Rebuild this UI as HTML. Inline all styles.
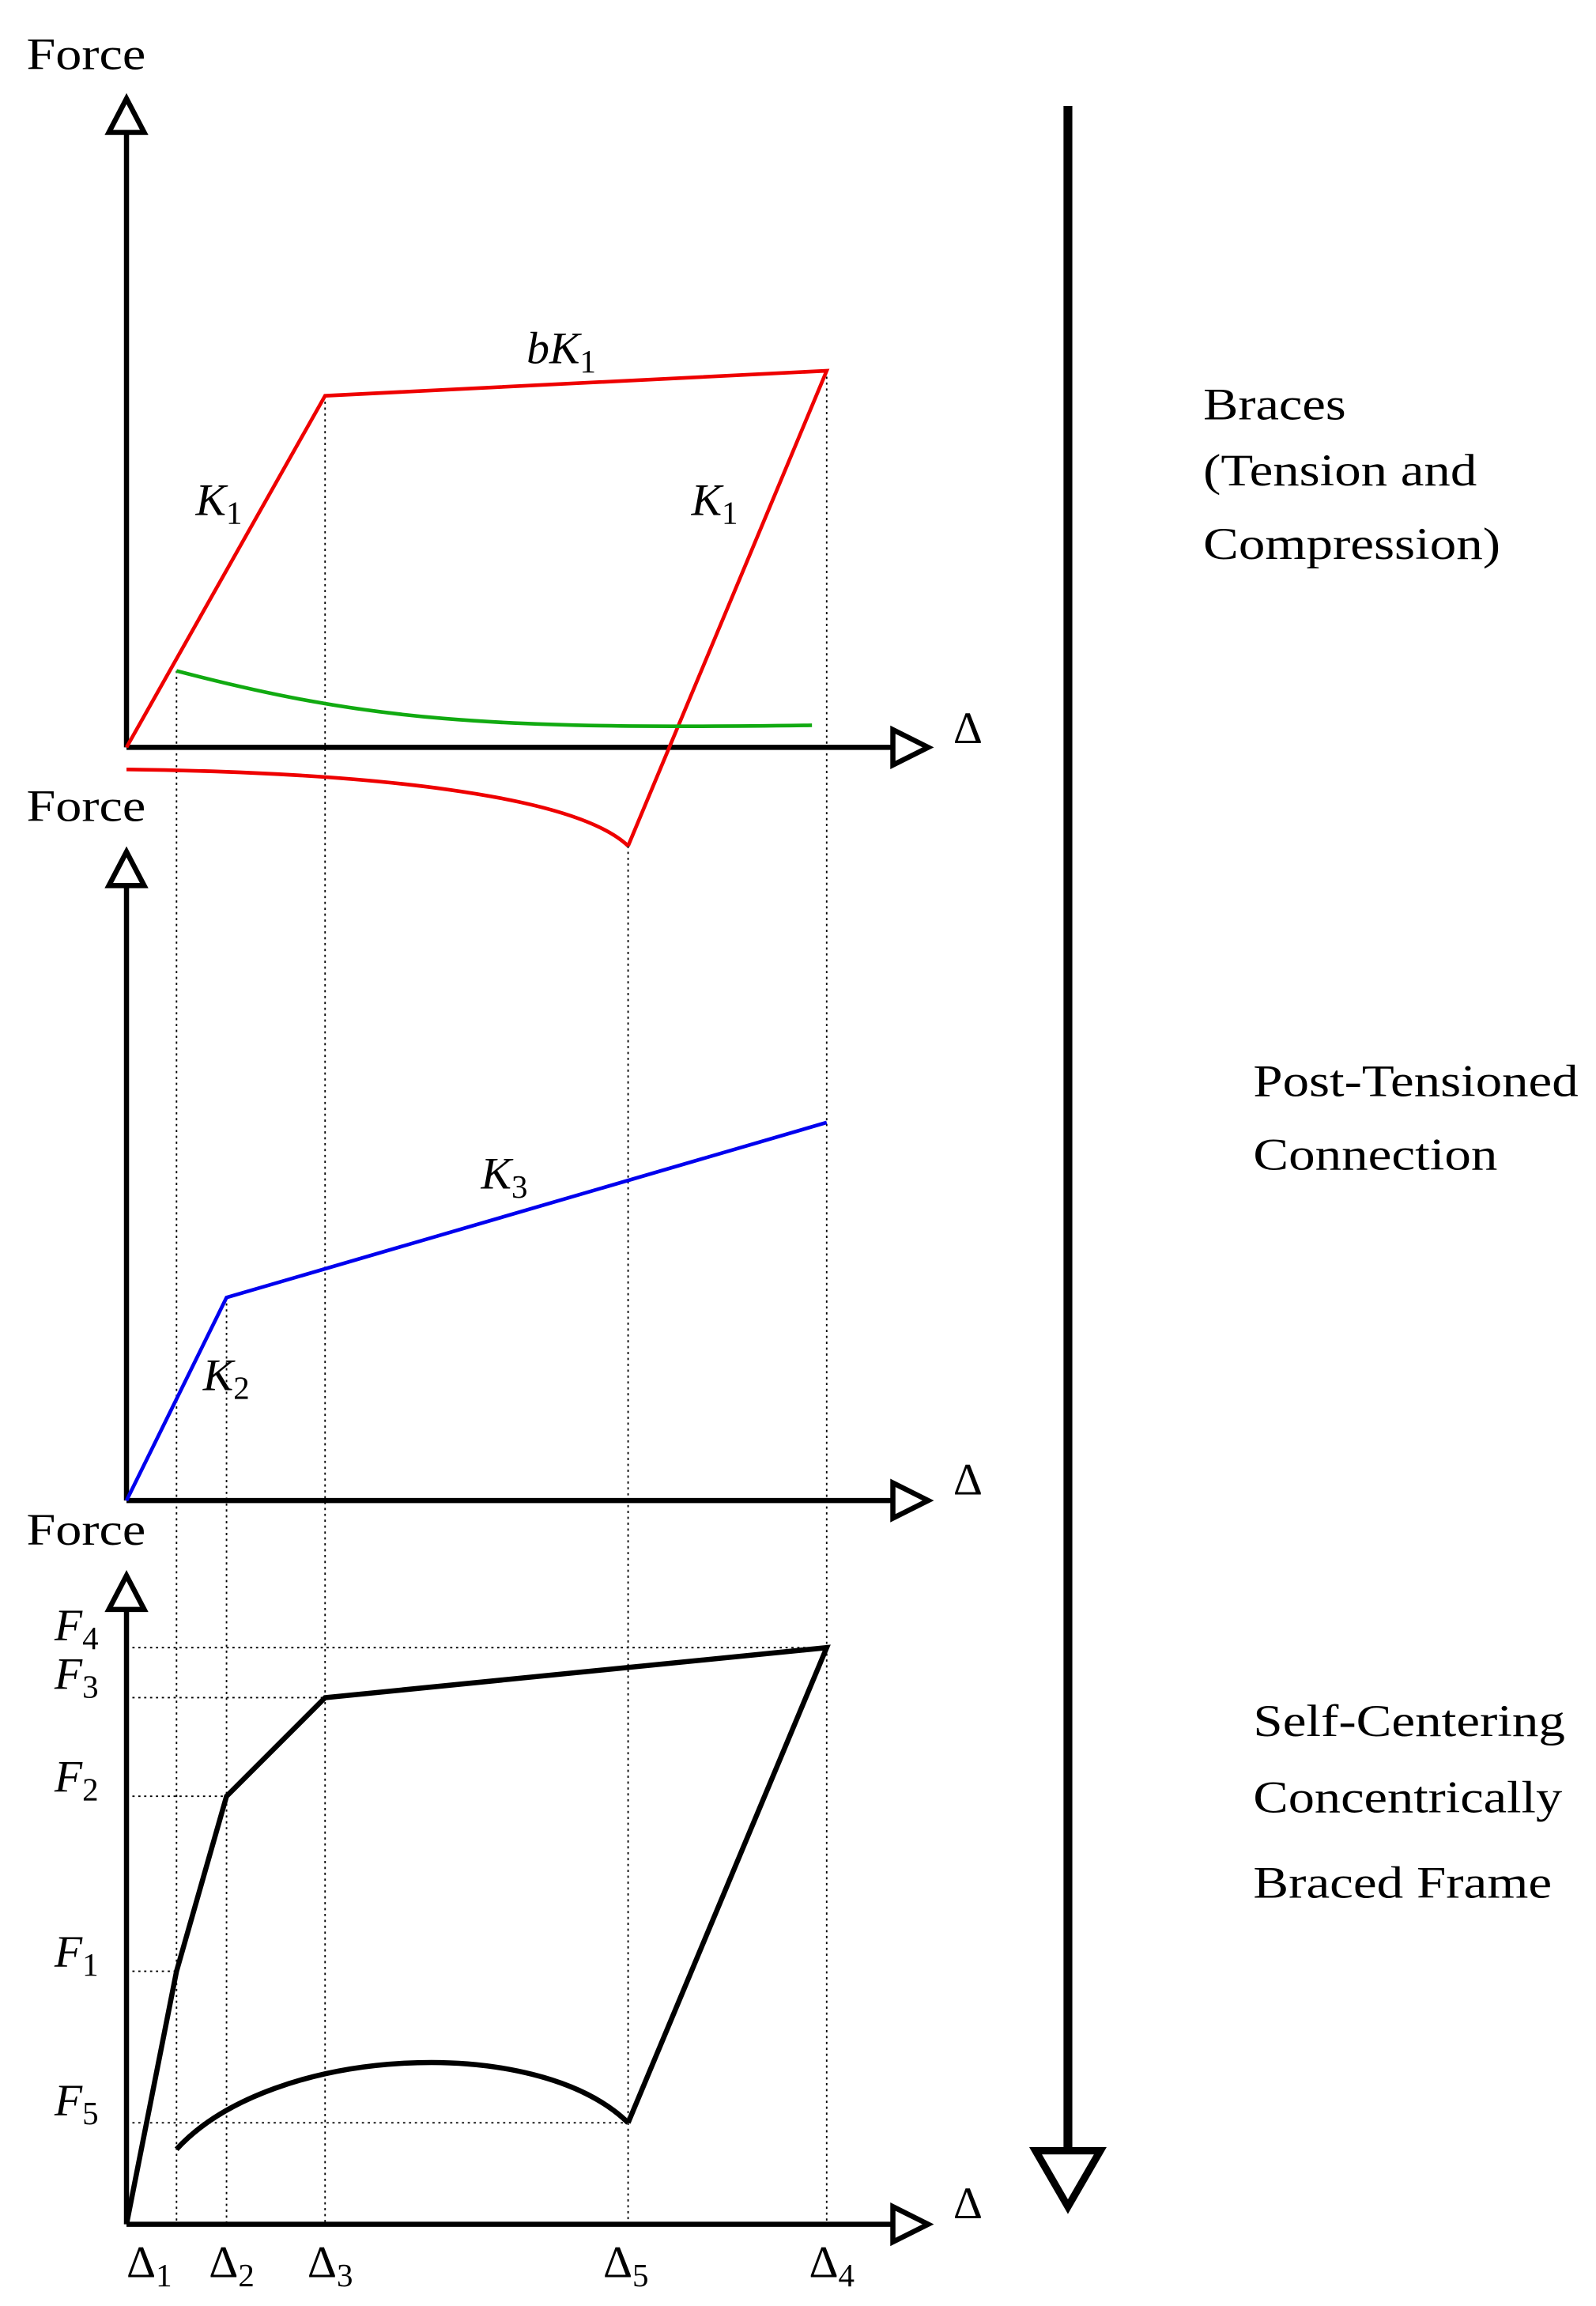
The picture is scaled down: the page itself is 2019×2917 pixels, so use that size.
<!DOCTYPE html>
<html><head><meta charset="utf-8"><style>
html,body{margin:0;padding:0;background:#fff;}
svg{display:block;}
text{font-family:"Liberation Serif",serif;fill:#000;}
.m{font-style:italic;}
</style></head><body>
<svg width="2019" height="2917" viewBox="0 0 1085 1567.5" xmlns="http://www.w3.org/2000/svg">
<g fill="none" stroke="#000" stroke-width="1" stroke-dasharray="1.5,2.5">
<line x1="120" y1="456" x2="120" y2="1512"/>
<line x1="154" y1="882" x2="154" y2="1512"/>
<line x1="221" y1="269" x2="221" y2="1512"/>
<line x1="427" y1="575" x2="427" y2="1512"/>
<line x1="562" y1="252" x2="562" y2="1512"/>
<line x1="86" y1="1120" x2="562" y2="1120"/>
<line x1="86" y1="1154" x2="221" y2="1154"/>
<line x1="86" y1="1221" x2="154" y2="1221"/>
<line x1="86" y1="1340" x2="120" y2="1340"/>
<line x1="86" y1="1443" x2="427" y2="1443"/>
</g>
<g fill="none" stroke="#000" stroke-width="3.5" stroke-linejoin="miter">
<line x1="86" y1="508" x2="86" y2="90"/><polygon points="74,90 98,90 86,67"/>
<line x1="86" y1="508" x2="607" y2="508"/><polygon points="607,496 607,520 631,508"/>
<line x1="86" y1="1020" x2="86" y2="602"/><polygon points="74,602 98,602 86,579"/>
<line x1="86" y1="1020" x2="607" y2="1020"/><polygon points="607,1008 607,1032 631,1020"/>
<line x1="86" y1="1512" x2="86" y2="1094"/><polygon points="74,1094 98,1094 86,1071"/>
<line x1="86" y1="1512" x2="607" y2="1512"/><polygon points="607,1500 607,1524 631,1512"/>
</g>
<line x1="726" y1="72" x2="726" y2="1462" stroke="#000" stroke-width="6"/>
<polygon points="704,1462 748,1462 726,1500" fill="#fff" stroke="#000" stroke-width="5"/>
<g fill="none" stroke="#e00" stroke-width="2.5">
<polyline points="86,508 221,269 562,252 427,575"/>
<path d="M86,523 C250,525 390,540 427,575"/>
</g>
<path d="M120,456 C250,490 330,496 552,493" fill="none" stroke="#1a1" stroke-width="2.5"/>
<polyline points="86,1020 154,882 562,763" fill="none" stroke="#00e" stroke-width="2.5"/>
<g fill="none" stroke="#000" stroke-width="3.5">
<polyline points="86,1512 120,1340 154,1221 221,1154 562,1120 427,1443"/>
<path d="M120,1461 C185,1390 365,1382 427,1443"/>
</g>
<g font-size="31">
<text x="18" y="47" textLength="81" lengthAdjust="spacingAndGlyphs">Force</text>
<text x="18" y="558" textLength="81" lengthAdjust="spacingAndGlyphs">Force</text>
<text x="18" y="1050" textLength="81" lengthAdjust="spacingAndGlyphs">Force</text>
<text x="648" y="505">Δ</text>
<text x="648" y="1016">Δ</text>
<text x="648" y="1508">Δ</text>
<text x="818" y="285" textLength="97" lengthAdjust="spacingAndGlyphs">Braces</text>
<text x="818" y="330" textLength="186" lengthAdjust="spacingAndGlyphs">(Tension and</text>
<text x="818" y="380" textLength="202" lengthAdjust="spacingAndGlyphs">Compression)</text>
<text x="852" y="745" textLength="221" lengthAdjust="spacingAndGlyphs">Post-Tensioned</text>
<text x="852" y="795" textLength="166" lengthAdjust="spacingAndGlyphs">Connection</text>
<text x="852" y="1180" textLength="212" lengthAdjust="spacingAndGlyphs">Self-Centering</text>
<text x="852" y="1232" textLength="210" lengthAdjust="spacingAndGlyphs">Concentrically</text>
<text x="852" y="1290" textLength="203" lengthAdjust="spacingAndGlyphs">Braced Frame</text>
<text x="358" y="247" class="m">bK<tspan font-style="normal" font-size="22" dy="6">1</tspan></text>
<text x="133" y="350" class="m">K<tspan font-style="normal" font-size="22" dy="6">1</tspan></text>
<text x="470" y="350" class="m">K<tspan font-style="normal" font-size="22" dy="6">1</tspan></text>
<text x="327" y="808" class="m">K<tspan font-style="normal" font-size="22" dy="6">3</tspan></text>
<text x="138" y="945" class="m">K<tspan font-style="normal" font-size="22" dy="6">2</tspan></text>
<text x="37" y="1115" class="m">F<tspan font-style="normal" font-size="22" dy="6">4</tspan></text>
<text x="37" y="1148" class="m">F<tspan font-style="normal" font-size="22" dy="6">3</tspan></text>
<text x="37" y="1218" class="m">F<tspan font-style="normal" font-size="22" dy="6">2</tspan></text>
<text x="37" y="1337" class="m">F<tspan font-style="normal" font-size="22" dy="6">1</tspan></text>
<text x="37" y="1438" class="m">F<tspan font-style="normal" font-size="22" dy="6">5</tspan></text>
<text x="86" y="1548">Δ<tspan font-size="22" dy="6">1</tspan></text>
<text x="142" y="1548">Δ<tspan font-size="22" dy="6">2</tspan></text>
<text x="209" y="1548">Δ<tspan font-size="22" dy="6">3</tspan></text>
<text x="410" y="1548">Δ<tspan font-size="22" dy="6">5</tspan></text>
<text x="550" y="1548">Δ<tspan font-size="22" dy="6">4</tspan></text>
</g>
</svg>
</body></html>
